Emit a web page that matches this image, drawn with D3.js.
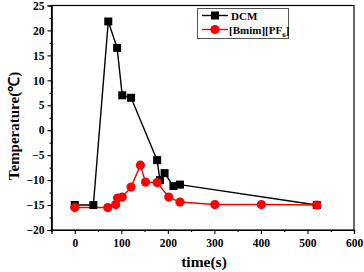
<!DOCTYPE html>
<html><head><meta charset="utf-8">
<script src="https://cdn.jsdelivr.net/npm/d3@7"></script>
<style>body{margin:0;background:#fff}svg{display:block}text{font-family:"Liberation Serif","Times New Roman",serif;font-weight:bold}</style>
</head><body><svg id="c" width="364" height="272"></svg>
<script>
const dcmTime = [0, 40, 72, 91, 102, 121, 177, 183, 193, 212, 226, 520];
const dcmTemp = [-15, -15, 21.8, 16.5, 7, 6.5, -6, -10, -8.6, -11.2, -10.9, -15];
const ilTime = [0, 71, 88, 92, 102, 121, 141, 152, 177, 202, 226, 301, 401, 520];
const ilTemp = [-15.5, -15.5, -14.9, -13.6, -13.4, -11.4, -7, -10.4, -10.5, -13.4, -14.4, -14.9, -14.9, -15];
const xTicks = [0, 100, 200, 300, 400, 500, 600];
const yTicks = [-20, -15, -10, -5, 0, 5, 10, 15, 20, 25];
const seriesNames = ["DCM", "[Bmim][PF6]"];

const svg = d3.select("#c");
const L = 51.5, R = 354, T = 5.5, B = 230;
const x = d3.scaleLinear().domain([-50, 600]).range([L, R]);
const y = d3.scaleLinear().domain([-20, 25]).range([B, T]);

svg.append("rect").attr("x", L).attr("y", T).attr("width", R - L).attr("height", B - T)
  .attr("fill", "none").attr("stroke", "#000").attr("stroke-width", 1.2);

const xMinor = d3.range(-50, 601, 50).filter(v => v % 100 !== 0);
const yMinor = d3.range(-17.5, 25, 5);
svg.append("g").attr("transform", `translate(0,${B})`)
  .call(d3.axisBottom(x).tickValues(xTicks).tickSize(4).tickPadding(5).tickFormat(d3.format("d")));
svg.append("g").attr("transform", `translate(0,${B})`)
  .call(d3.axisBottom(x).tickValues(xMinor).tickSize(2).tickFormat(""));
svg.append("g").attr("transform", `translate(${L},0)`)
  .call(d3.axisLeft(y).tickValues(yTicks).tickSize(4).tickPadding(3).tickFormat(d3.format("d")));
svg.append("g").attr("transform", `translate(${L},0)`)
  .call(d3.axisLeft(y).tickValues(yMinor).tickSize(2).tickFormat(""));
svg.selectAll(".domain").attr("stroke", "#000").attr("stroke-width", 1.2);
svg.selectAll(".tick line").attr("stroke", "#000").attr("stroke-width", 1.1);
svg.selectAll(".tick text").attr("font-size", 11.5).attr("font-family", "Liberation Serif").attr("font-weight", "bold").attr("fill", "#000");

svg.append("text").attr("x", 204).attr("y", 267).attr("text-anchor", "middle")
  .attr("font-size", 15.5).text("time(s)");
svg.append("text").attr("transform", `translate(19,126) rotate(-90)`).attr("text-anchor", "middle")
  .attr("font-size", 15).text("Temperature(℃)");

const line = d3.line().x(d => x(d[0])).y(d => y(d[1]));
const dcm = dcmTime.map((t, i) => [t, dcmTemp[i]]);
const il = ilTime.map((t, i) => [t, ilTemp[i]]);

svg.append("path").datum(dcm).attr("d", line).attr("fill", "none").attr("stroke", "#000").attr("stroke-width", 1.4);
svg.append("path").datum(il).attr("d", line).attr("fill", "none").attr("stroke", "#ff0000").attr("stroke-width", 1.4);
svg.selectAll(".sq").data(dcm).enter().append("rect")
  .attr("x", d => x(d[0]) - 4).attr("y", d => y(d[1]) - 4).attr("width", 8).attr("height", 8).attr("fill", "#000");
svg.selectAll(".ci").data(il).enter().append("circle")
  .attr("cx", d => x(d[0])).attr("cy", d => y(d[1])).attr("r", 4.6).attr("fill", "#ff0000");

const lg = svg.append("g");
lg.append("rect").attr("x", 197.5).attr("y", 8.5).attr("width", 91).attr("height", 30)
  .attr("fill", "#fff").attr("stroke", "#555").attr("stroke-width", 1);
lg.append("line").attr("x1", 202).attr("x2", 228).attr("y1", 15.5).attr("y2", 15.5).attr("stroke", "#000").attr("stroke-width", 1.4);
lg.append("rect").attr("x", 211).attr("y", 11.5).attr("width", 8).attr("height", 8).attr("fill", "#000");
lg.append("line").attr("x1", 202).attr("x2", 228).attr("y1", 29.5).attr("y2", 29.5).attr("stroke", "#ff0000").attr("stroke-width", 1.4);
lg.append("circle").attr("cx", 215).attr("cy", 29.5).attr("r", 4.6).attr("fill", "#ff0000");
lg.append("text").attr("x", 231).attr("y", 19.5).attr("font-size", 11).text(seriesNames[0]);
const t2 = lg.append("text").attr("x", 229).attr("y", 33.5).attr("font-size", 11);
t2.append("tspan").text("[Bmim][PF");
t2.append("tspan").attr("font-size", 7).attr("dy", 3).text("6");
t2.append("tspan").attr("dy", -3).text("]");
</script></body></html>
